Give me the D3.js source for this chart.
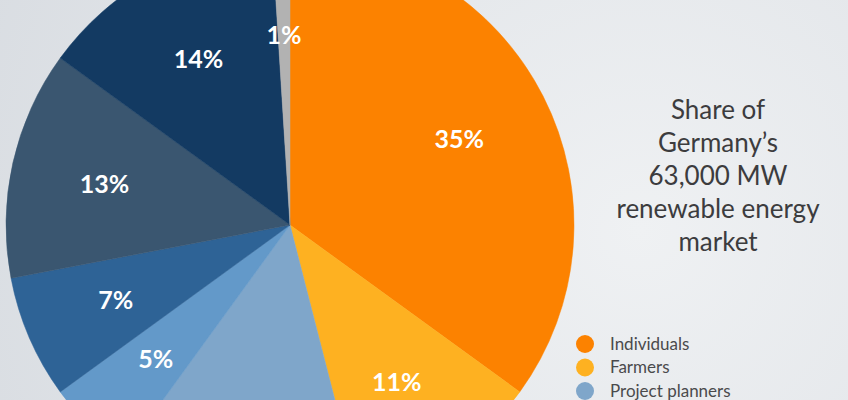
<!DOCTYPE html>
<html>
<head>
<meta charset="utf-8">
<script src="https://cdn.jsdelivr.net/npm/d3@7"></script>
<style>
  html, body { margin: 0; padding: 0; overflow: hidden; }
  svg { display: block; }
</style>
</head>
<body>
<script>
// Chart data
var owners = ['Individuals', 'Farmers', 'Project planners', 'Big four utilities',
              'Other utilities', 'Funds / banks', 'Industry', 'Other'];
var shares = [35, 11, 14, 5, 7, 13, 14, 1];
var colors = ['#fc8200', '#feb121', '#7fa6ca', '#6399c9',
              '#2e6396', '#3a5670', '#133a62', '#b2b2b2'];
var titleLines = ['Share of', 'Germany\u2019s', '63,000 MW', 'renewable energy', 'market'];

var width = 848,
    height = 400,
    cx = 290,
    cy = 225,
    radius = 284;

var svg = d3.select('body').append('svg')
    .attr('width', width)
    .attr('height', height);

// soft background
var grad = svg.append('defs').append('radialGradient')
    .attr('id', 'bg')
    .attr('gradientUnits', 'userSpaceOnUse')
    .attr('cx', 640).attr('cy', 230).attr('r', 700);
grad.append('stop').attr('offset', '0%').attr('stop-color', '#eff1f3');
grad.append('stop').attr('offset', '100%').attr('stop-color', '#d9dde2');

svg.append('rect')
    .attr('width', width)
    .attr('height', height)
    .attr('fill', 'url(#bg)');

var data = owners.map(function(d, i) {
  return { name: d, value: shares[i], color: colors[i] };
});

var pie = d3.pie()
    .sort(null)
    .value(function(d) { return d.value; });

var arc = d3.arc()
    .innerRadius(0)
    .outerRadius(radius);

var labelArc = d3.arc()
    .innerRadius(190)
    .outerRadius(190);

var g = svg.append('g')
    .attr('transform', 'translate(' + cx + ',' + cy + ')');

var slices = pie(data);

g.selectAll('path')
    .data(slices)
  .enter().append('path')
    .attr('d', arc)
    .attr('fill', function(d) { return d.data.color; })
    .attr('stroke', function(d) { return d.data.color; })
    .attr('stroke-width', 0.5);

// only the labels that land inside the frame (the slide crops the pie)
g.selectAll('text')
    .data(slices.filter(function(d) { return cy + labelArc.centroid(d)[1] + 12 < height; }))
  .enter().append('text')
    .attr('transform', function(d) { return 'translate(' + labelArc.centroid(d) + ')'; })
    .attr('text-anchor', 'middle')
    .attr('dy', '0.36em')
    .style('font-family', 'Lato, sans-serif')
    .style('font-weight', 'bold')
    .style('font-size', '25px')
    .style('fill', '#fff')
    .text(function(d) { return d.data.value + '%'; });

// title
svg.append('g').selectAll('text')
    .data(titleLines)
  .enter().append('text')
    .attr('x', 718)
    .attr('y', function(d, i) { return 119 + i * 33; })
    .attr('text-anchor', 'middle')
    .style('font-family', 'Lato, sans-serif')
    .style('font-size', '26px')
    .style('fill', '#3c3c3e')
    .text(function(d) { return d; });

// legend (rows past the bottom edge are cropped in the slide)
var legend = svg.append('g').selectAll('g')
    .data(data.filter(function(d, i) { return 344 + i * 23.5 < height; }))
  .enter().append('g')
    .attr('transform', function(d, i) { return 'translate(585,' + (344 + i * 23.5) + ')'; });

legend.append('circle')
    .attr('r', 9)
    .attr('fill', function(d) { return d.color; });

legend.append('text')
    .attr('x', 25)
    .attr('dy', '0.35em')
    .style('font-family', 'Lato, sans-serif')
    .style('font-size', '17px')
    .style('fill', '#4a4a4c')
    .text(function(d) { return d.name; });
</script>
</body>
</html>
